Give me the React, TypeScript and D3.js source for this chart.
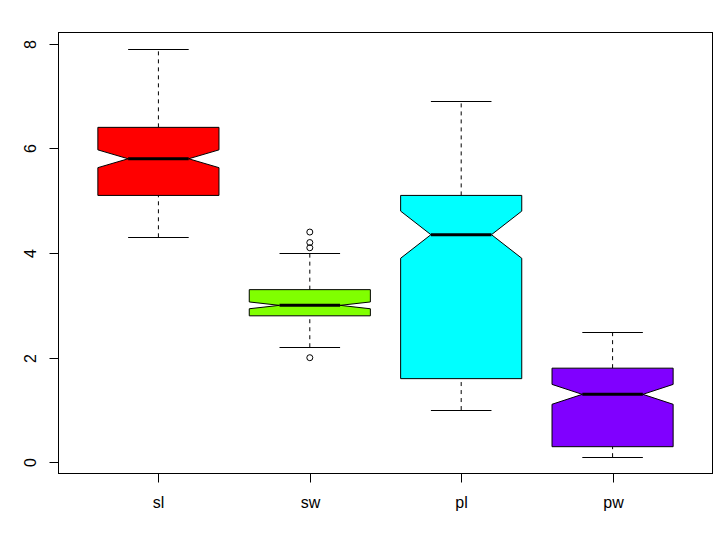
import React, { useEffect, useRef } from 'react'
import * as d3 from 'd3'

// iris summary
const categories = ['sl', 'sw', 'pl', 'pw']
const colors = ['#FF0000', '#80FF00', '#00FFFF', '#8000FF']
const whiskerLow = [4.3, 2.2, 1.0, 0.1]
const q1 = [5.1, 2.8, 1.6, 0.3]
const medians = [5.8, 3.0, 4.35, 1.3]
const q3 = [6.4, 3.3, 5.1, 1.8]
const whiskerHigh = [7.9, 4.0, 6.9, 2.5]
const notchLow = [5.63, 2.935, 3.9, 1.11]
const notchHigh = [5.97, 3.065, 4.8, 1.49]
const outliers = [[], [2.0, 4.1, 4.2, 4.4], [], []]
const yTicks = [0, 2, 4, 6, 8]

export default function App() {
    const ref = useRef<SVGSVGElement>(null)

    useEffect(() => {
        const svg = d3.select(ref.current)
        svg.selectAll('*').remove()

        const left = 58.5, right = 712.5, top = 32.5, bottom = 473.5
        const x = d3.scaleLinear().domain([0.34, 4.66]).range([left, right])
        const y = d3.scaleLinear().domain([-0.212, 8.212]).range([bottom, top])
        const halfW = (x(1) - x(0.6)) // box half width
        const font = '"Liberation Sans", Arial, sans-serif'

        categories.forEach((c, i) => {
            const cx = x(i + 1)
            const g = svg.append('g')
            // whiskers
            g.append('line').attr('x1', cx).attr('x2', cx)
                .attr('y1', y(whiskerLow[i])).attr('y2', y(q1[i]))
                .attr('stroke', 'black').attr('stroke-dasharray', '4,4')
            g.append('line').attr('x1', cx).attr('x2', cx)
                .attr('y1', y(q3[i])).attr('y2', y(whiskerHigh[i]))
                .attr('stroke', 'black').attr('stroke-dasharray', '4,4')
            // staples
            ;[whiskerLow[i], whiskerHigh[i]].forEach(v => {
                g.append('line').attr('x1', cx - halfW / 2).attr('x2', cx + halfW / 2)
                    .attr('y1', Math.round(y(v)) + 0.5).attr('y2', Math.round(y(v)) + 0.5)
                    .attr('stroke', 'black')
            })
            // notched box
            const pts: [number, number][] = [
                [cx - halfW, y(q1[i])], [cx + halfW, y(q1[i])],
                [cx + halfW, y(notchLow[i])], [cx + halfW / 2, y(medians[i])],
                [cx + halfW, y(notchHigh[i])], [cx + halfW, y(q3[i])],
                [cx - halfW, y(q3[i])], [cx - halfW, y(notchHigh[i])],
                [cx - halfW / 2, y(medians[i])], [cx - halfW, y(notchLow[i])],
            ]
            g.append('path').attr('d', d3.line()(pts) + 'Z')
                .attr('fill', colors[i]).attr('stroke', 'black').attr('stroke-width', 1)
            g.append('line').attr('x1', cx - halfW / 2).attr('x2', cx + halfW / 2)
                .attr('y1', y(medians[i])).attr('y2', y(medians[i]))
                .attr('stroke', 'black').attr('stroke-width', 3)
            // outliers
            g.selectAll('circle').data(outliers[i]).enter().append('circle')
                .attr('cx', cx).attr('cy', d => y(d)).attr('r', 3)
                .attr('fill', 'none').attr('stroke', 'black')
        })

        // frame
        svg.append('rect').attr('x', left).attr('y', top)
            .attr('width', right - left).attr('height', bottom - top)
            .attr('fill', 'none').attr('stroke', 'black')

        // y axis
        const ya = svg.append('g')
        yTicks.forEach(t => {
            const yy = Math.round(y(t)) + 0.5
            ya.append('line').attr('x1', left - 9).attr('x2', left).attr('y1', yy).attr('y2', yy)
                .attr('stroke', 'black')
            ya.append('text').attr('transform', `translate(36,${yy}) rotate(-90)`)
                .attr('text-anchor', 'middle').attr('font-family', font).attr('font-size', 16)
                .text(t)
        })

        // x axis
        const xa = svg.append('g')
        categories.forEach((c, i) => {
            const xx = Math.round(x(i + 1)) + 0.5
            xa.append('line').attr('x1', xx).attr('x2', xx).attr('y1', bottom).attr('y2', bottom + 9)
                .attr('stroke', 'black')
            xa.append('text').attr('x', xx).attr('y', 508)
                .attr('text-anchor', 'middle').attr('font-family', font).attr('font-size', 16)
                .text(c)
        })
    }, [])

    return <svg ref={ref} width={726} height={539}
        style={{ position: 'absolute', left: 0, top: 0, background: 'white' }} />
}
